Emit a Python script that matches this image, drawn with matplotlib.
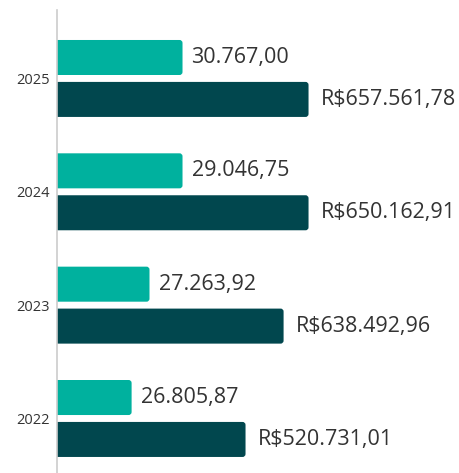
import matplotlib
matplotlib.use("Agg")
import matplotlib.pyplot as plt
from matplotlib.patches import FancyBboxPatch
import numpy as np

plt.rcParams['font.family'] = ['Open Sans', 'DejaVu Sans']

years = ["2025", "2024", "2023", "2022"]
# values shown as labels
quantity_values = [30767.00, 29046.75, 27263.92, 26805.87]
amount_values = [657561.78, 650162.91, 638492.96, 520731.01]
# bar extents as drawn in the reference (relative scale, 2025 dark bar = 100)
quantity_bar = [50.0, 50.0, 36.9, 29.8]
amount_bar = [100.0, 100.0, 90.1, 75.0]

teal = "#00B19E"
dark = "#01474E"
text_color = "#333333"


def fmt_br(v):
    s = f"{v:,.2f}"
    return s.replace(",", "X").replace(".", ",").replace("X", ".")


W, H = 459, 473
fig = plt.figure(figsize=(W / 100, H / 100), dpi=100)
ax_left = 56.5 / W
ax_bottom = 0.0
ax_top = (H - 10) / H
ax = fig.add_axes([ax_left, ax_bottom, 1 - ax_left, ax_top - ax_bottom])

y = np.arange(len(years))
bar_h = 0.309
off = 0.185

b1 = ax.barh(y - off, quantity_bar, height=bar_h, color=teal)
b2 = ax.barh(y + off, amount_bar, height=bar_h, color=dark)

ax.set_xlim(0, 159.7)
ax.set_ylim(3.481, -0.604)

# rounded corners
xu_per_px = 159.7 / (W - 56.5)
yu_per_px = (3.481 + 0.604) / (H - 10)
r_px = 3.0
for bars in (b1, b2):
    for rect in bars:
        rect.set_visible(False)
        x0, y0 = rect.get_x(), rect.get_y()
        w, h = rect.get_width(), rect.get_height()
        p = FancyBboxPatch((x0 - 2 * xu_per_px, y0), w + 2 * xu_per_px, h,
                           boxstyle=f"round,pad=0,rounding_size={r_px * xu_per_px}",
                           mutation_aspect=yu_per_px / xu_per_px,
                           facecolor=rect.get_facecolor(), edgecolor="none",
                           clip_on=True, zorder=2)
        ax.add_patch(p)

for rect, v in zip(b1, quantity_values):
    ax.annotate(fmt_br(v), xy=(rect.get_width(), rect.get_y() + rect.get_height() / 2),
                xytext=(9, 0), textcoords="offset pixels", ha="left", va="center",
                fontsize=15.5, color=text_color)
for rect, v in zip(b2, amount_values):
    ax.annotate("R$" + fmt_br(v), xy=(rect.get_width(), rect.get_y() + rect.get_height() / 2),
                xytext=(12, 0), textcoords="offset pixels", ha="left", va="center",
                fontsize=15.5, color=text_color)

ax.set_yticks(y)
ax.set_yticklabels(years, fontsize=10.5, color=text_color)
ax.tick_params(axis="y", length=0, pad=5)
ax.set_xticks([])
for s in ("top", "right", "bottom"):
    ax.spines[s].set_visible(False)
ax.spines["left"].set_color("#CCCCCC")
ax.spines["left"].set_linewidth(1.2)
ax.spines["left"].set_zorder(3)
ax.patch.set_alpha(0)

fig.savefig("out.png", dpi=100)
